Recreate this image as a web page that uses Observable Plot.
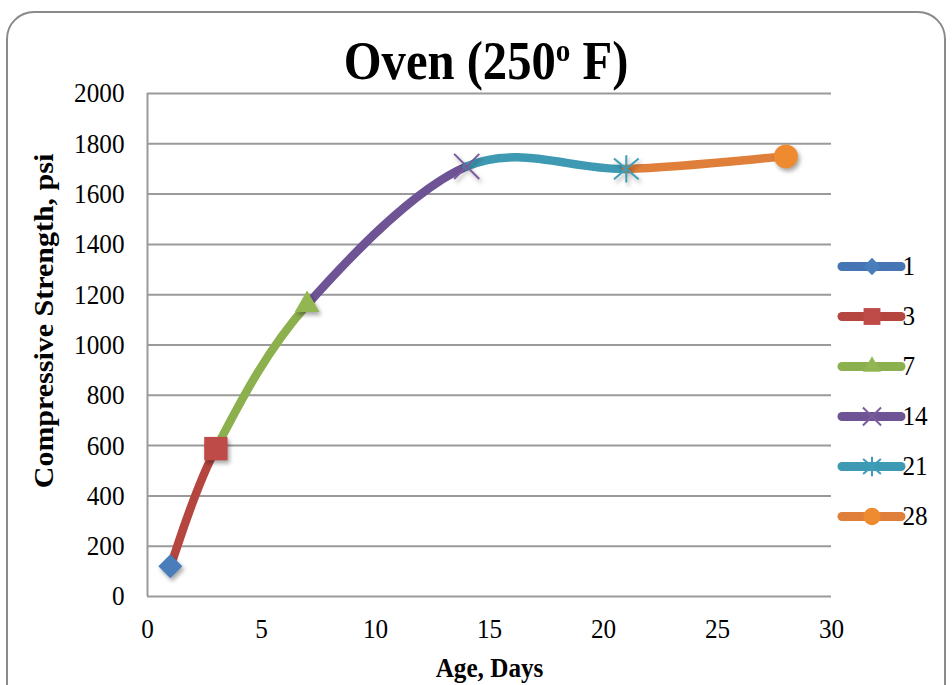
<!DOCTYPE html>
<html>
<head>
<meta charset="utf-8">
<script src="https://cdn.jsdelivr.net/npm/d3@7"></script>
<script src="https://cdn.jsdelivr.net/npm/@observablehq/plot@0.6"></script>
<style>
  html, body { margin: 0; padding: 0; background: #fff; overflow: hidden; }
  #wrap { position: relative; width: 952px; height: 685px; overflow: hidden; font-family: "Liberation Serif", "Times New Roman", serif; }
  #frame { position: absolute; left: 6px; top: 11px; width: 940px; height: 740px; border: 2px solid #8a8a8a; border-radius: 28px; box-sizing: border-box; }
  #title { position: relative; height: 88px; width: 952px; }
  #title .t { position: absolute; left: 20px; right: 0; top: 34px; text-align: center; font-size: 54px; line-height: 54px; font-weight: bold; color: #000; }
  #title .t span.inner { display: inline-block; transform: scaleX(0.9); transform-origin: center; }
  #title sup { font-size: 0.6em; vertical-align: 18px; line-height: 0; }
  #chart { position: relative; }
  #legend { position: absolute; left: 830px; top: 239px; }
  .main g[aria-label="dot"] { filter: drop-shadow(2px 3px 2px rgba(0,0,0,0.35)); }
</style>
</head>
<body>
<div id="wrap">
  <div id="frame"></div>
  <div id="title"><div class="t"><span class="inner">Oven (250<sup>o</sup> F)</span></div></div>
  <div id="chart"></div>
  <div id="legend"></div>
</div>
<script>
// ---- data ----
const days = [1, 3, 7, 14, 21, 28];
const strength = [120, 588, 1160, 1710, 1700, 1750];
const seriesLabels = ["1", "3", "7", "14", "21", "28"];
const xTicks = [0, 5, 10, 15, 20, 25, 30];
const yTicks = [0, 200, 400, 600, 800, 1000, 1200, 1400, 1600, 1800, 2000];
const xLabel = "Age, Days";
const yLabel = "Compressive Strength, psi";

// ---- styles (kept separate from data) ----
const lineColors = ["#4575B5", "#B5453F", "#8DB04F", "#6E5494", "#3E99B2", "#DF7F3A"];
const markerColors = ["#4A7EBB", "#BE4B48", "#92B752", "#7A5C9E", "#3F9DB8", "#EE8A30"];
// Excel-style "*" marker: an X with a vertical bar
const starX = {
  draw(context, size) {
    const r = Math.sqrt(size / Math.PI);
    const a = r * 0.95, b = r * 0.8;
    context.moveTo(-a, -b); context.lineTo(a, b);
    context.moveTo(-a, b); context.lineTo(a, -b);
    context.moveTo(0, -r * 1.05); context.lineTo(0, r * 1.05);
  }
};
const markerSymbols = ["diamond2", "square", "triangle", "times", starX, "circle"];
const markerR = [10.8, 13.2, 9.2, 11.5, 13, 12];
const strokeSymbolIdx = new Set([3, 4]);

const points = days.map((d, i) => ({day: d, psi: strength[i], series: seriesLabels[i], idx: i}));

// Smooth (Excel-like cardinal) curve that draws only the segment from point k to k+1
function segmentCurve(k) {
  return function(context) {
    let pts = [];
    return {
      areaStart() {}, areaEnd() {},
      lineStart() { pts = []; },
      point(x, y) { pts.push([+x, +y]); },
      lineEnd() {
        const n = pts.length;
        const p = i => pts[Math.max(0, Math.min(n - 1, i))];
        const p0 = p(k - 1), p1 = p(k), p2 = p(k + 1), p3 = p(k + 2);
        context.moveTo(p1[0], p1[1]);
        context.bezierCurveTo(
          p1[0] + (p2[0] - p0[0]) / 6, p1[1] + (p2[1] - p0[1]) / 6,
          p2[0] - (p3[0] - p1[0]) / 6, p2[1] - (p3[1] - p1[1]) / 6,
          p2[0], p2[1]);
      }
    };
  };
}

function dotMark(data, i, scale, xy) {
  const isStroke = strokeSymbolIdx.has(i);
  return Plot.dot(data, {
    ...xy,
    symbol: markerSymbols[i],
    r: markerR[i] * scale,
    fill: isStroke ? "none" : markerColors[i],
    stroke: isStroke ? markerColors[i] : "none",
    strokeWidth: isStroke ? 2 : 0
  });
}

const lineMarks = days.slice(1).map((_, k) => Plot.line(points, {
  x: "day", y: "psi", curve: segmentCurve(k),
  stroke: lineColors[k + 1], strokeWidth: 8.5, strokeLinecap: "round"
}));

const dotMarks = points.map((p, i) => dotMark([p], i, 1, {x: "day", y: "psi"}));

const chart = Plot.plot({
  width: 952, height: 597,
  marginTop: 5, marginBottom: 89, marginLeft: 147, marginRight: 121,
  className: "main",
  style: {fontFamily: "'Liberation Serif', 'Times New Roman', serif", fontSize: "28px", color: "#000", background: "transparent", overflow: "visible"},
  x: {domain: [0, 30], ticks: xTicks, tickSize: 0, tickPadding: 22, label: null, tickFormat: d => String(d)},
  y: {domain: [0, 2000], ticks: yTicks, tickSize: 0, tickPadding: 23, label: null, tickFormat: d => String(d)},
  marks: [
    Plot.ruleY(yTicks, {stroke: "#9a9a9a", strokeWidth: 2}),
    Plot.ruleX([0], {stroke: "#9a9a9a", strokeWidth: 2}),
    ...lineMarks,
    ...dotMarks,
    Plot.text([xLabel], {text: d => d, frameAnchor: "bottom", dy: 72, fontWeight: "bold", fontSize: 28, lineAnchor: "middle", textAnchor: "middle"}),
    Plot.text([yLabel], {text: d => d, frameAnchor: "left", rotate: -90, dx: -103, dy: -24, fontWeight: "bold", fontSize: 30, lineAnchor: "middle", textAnchor: "middle"})
  ]
});
document.getElementById("chart").appendChild(chart);

// ---- legend ----
const legend = Plot.plot({
  width: 122, height: 304,
  marginTop: 0, marginBottom: 0, marginLeft: 0, marginRight: 0,
  style: {fontFamily: "'Liberation Serif', 'Times New Roman', serif", fontSize: "28px", color: "#000", background: "transparent", overflow: "visible"},
  x: {domain: [0, 1], range: [12, 71], axis: null},
  y: {type: "point", domain: seriesLabels, range: [25, 278], padding: 0, axis: null},
  marks: [
    ...points.map((p, i) => Plot.ruleY([p], {y: "series", x1: () => 0, x2: () => 1, stroke: lineColors[i], strokeWidth: 9, strokeLinecap: "round"})),
    ...points.map((p, i) => dotMark([p], i, 0.72, {x: () => 0.5, y: "series"})),
    Plot.text(points, {x: () => 1, y: "series", text: "series", textAnchor: "start", dx: 1, lineAnchor: "middle", fontSize: 28})
  ]
});
document.getElementById("legend").appendChild(legend);

// Narrow the glyphs slightly, as in the reference picture
function squeeze(svg, f) {
  svg.querySelectorAll("text").forEach(t => {
    const tr = t.getAttribute("transform") || "";
    let pre = "";
    const xa = t.getAttribute("x");
    if (xa !== null && /^-?[\d.]+$/.test(xa) && +xa !== 0) { pre = ` translate(${xa},0)`; t.removeAttribute("x"); }
    const rotated = !!t.closest('[transform*="rotate"]');
    t.setAttribute("transform", `${tr}${pre} ${rotated ? `scale(1,${f})` : `scale(${f},1)`}`);
  });
}
squeeze(chart, 0.9);
squeeze(legend, 0.9);
</script>
</body>
</html>
